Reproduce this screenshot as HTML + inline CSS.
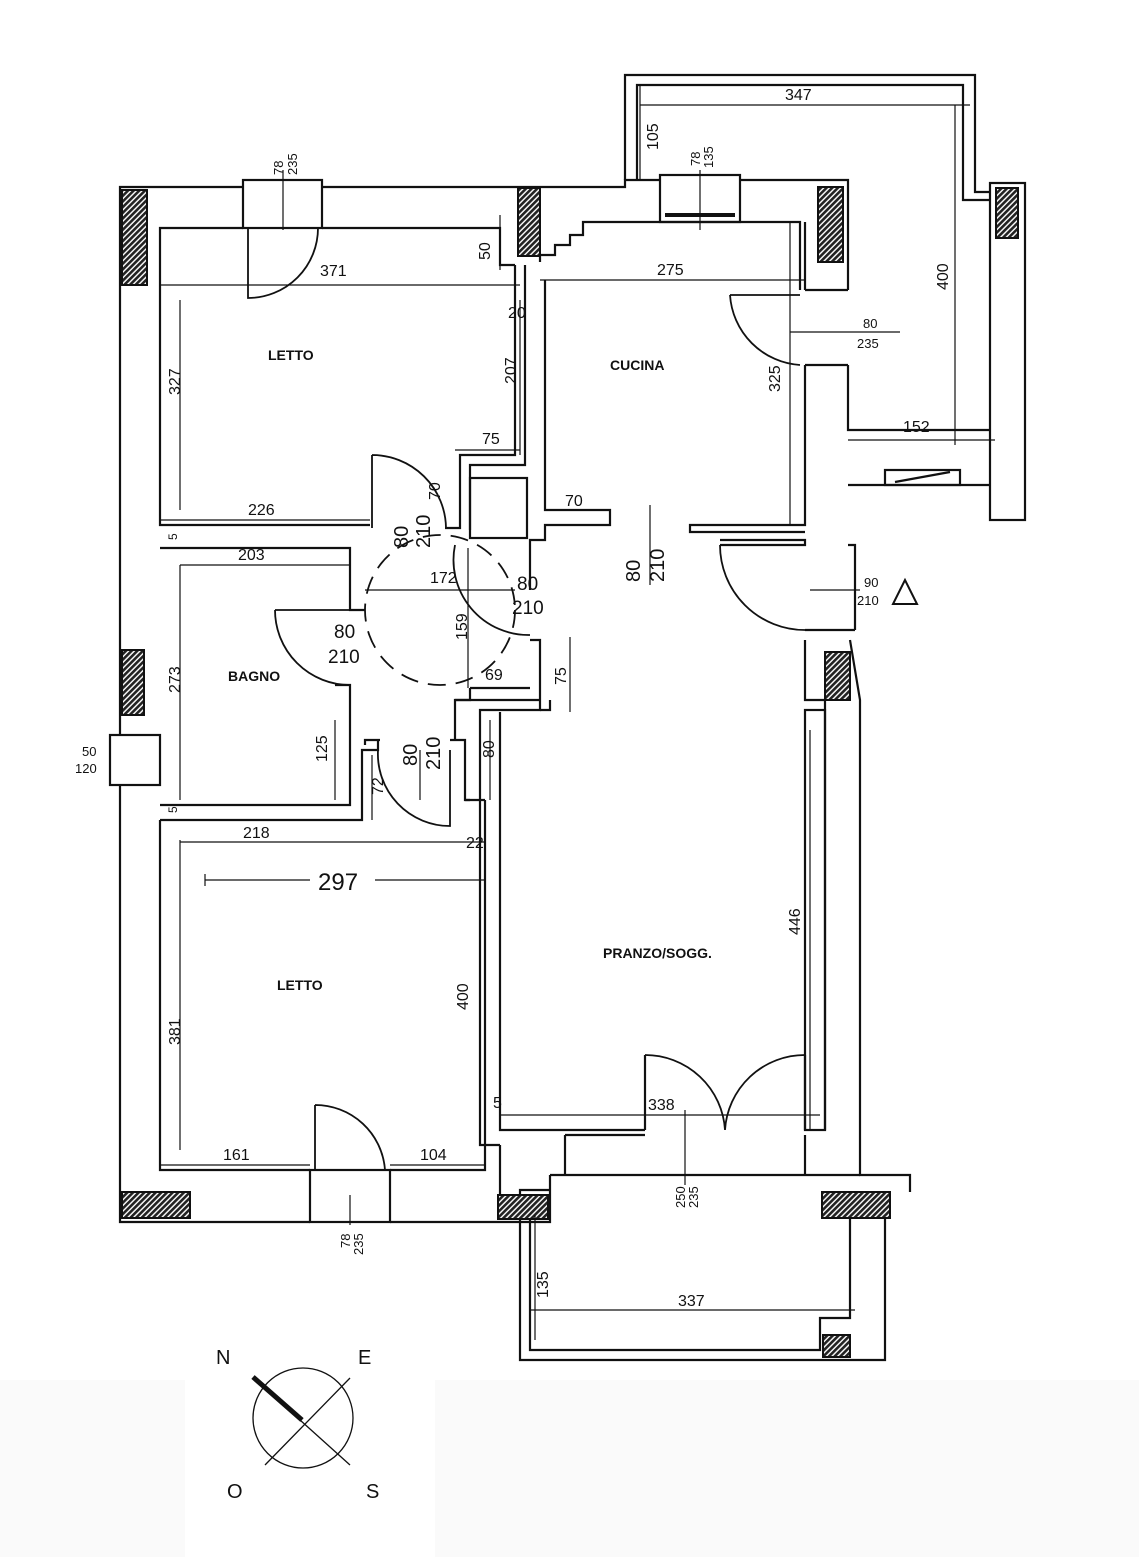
<!DOCTYPE html>
<html><head><meta charset="utf-8"><style>
html,body{margin:0;padding:0;background:#fff}
svg{display:block}
text{font-family:"Liberation Sans",sans-serif;fill:#111}
.r{font-family:"Liberation Sans Narrow","Liberation Sans",sans-serif;font-weight:bold;font-size:14px}
.d{font-size:16px}
</style></head><body>
<svg width="1139" height="1557" viewBox="0 0 1139 1557" xmlns="http://www.w3.org/2000/svg">
<defs>
<pattern id="h" width="4" height="4" patternUnits="userSpaceOnUse" patternTransform="rotate(45)">
<rect width="4" height="4" fill="#fff"/><rect width="2.6" height="4" fill="#222"/></pattern>
</defs>
<rect x="0" y="1380" width="1139" height="177" fill="#fafafa"/>
<rect x="185" y="1320" width="250" height="237" fill="#fff"/>
<g fill="none" stroke="#111" stroke-width="2.2">
<polyline points="243,187 120,187 120,735"/>
<polyline points="120,785 120,1222 310,1222"/>
<polyline points="390,1222 550,1222 550,1175"/>
<polyline points="322,187 625,187 625,180 660,180"/>
<polyline points="740,180 848,180 848,290"/>
<rect x="243" y="180" width="79" height="48"/>
<rect x="660" y="175" width="80" height="47"/>
<line x1="665" y1="215" x2="735" y2="215" stroke-width="4"/>
<polyline points="243,228 160,228 160,525 370,525"/>
<polyline points="322,228 500,228 500,265 515,265"/>
<polyline points="160,548 350,548 350,610 365,610"/>
<polyline points="515,265 515,455 460,455 460,528 445,528"/>
<polyline points="525,265 525,465 470,465 470,530"/>
<polyline points="540,262 540,255 555,255 555,245 570,245 570,235 583,235 583,222 800,222 800,290"/>
<polyline points="545,280 545,510 610,510 610,525 545,525 545,540 530,540 530,590"/>
<rect x="470" y="478" width="57" height="60"/>
<polyline points="805,222 805,290"/>
<polyline points="805,365 805,525 690,525 690,532 805,532"/>
<polyline points="848,365 848,430 990,430"/>
<polyline points="848,485 990,485"/>
<rect x="885" y="470" width="75" height="15"/>
<line x1="895" y1="482" x2="950" y2="472"/>
<line x1="805" y1="290" x2="848" y2="290"/>
<line x1="805" y1="365" x2="848" y2="365"/>
<polyline points="720,545 805,545 805,540 720,540"/>
<polyline points="848,545 855,545 855,630"/>
<polyline points="805,630 855,630"/>
<polyline points="805,640 805,700 825,700 825,1130"/>
<polyline points="850,640 860,700 860,1175 910,1175 910,1192"/>
<rect x="805" y="710" width="20" height="420"/>
<polyline points="530,640 540,640 540,710 480,710 480,1145 500,1145"/>
<polyline points="500,712 500,1130 645,1130"/>
<polyline points="470,688 470,700 455,700 455,740"/>
<polyline points="455,700 540,700"/>
<line x1="470" y1="688" x2="530" y2="688"/>
<polyline points="540,710 550,710 550,700"/>
<polyline points="335,685 350,685 350,805 160,805"/>
<polyline points="160,820 362,820 362,750 378,750 378,740"/>
<polyline points="365,745 365,740 380,740"/>
<polyline points="160,820 160,1170 310,1170"/>
<polyline points="390,1170 485,1170 485,800"/>
<polyline points="450,740 465,740 465,800 470,800"/>
<polyline points="465,800 485,800"/>
<polyline points="645,1130 645,1055"/>
<polyline points="805,1055 805,1130"/>
<polyline points="565,1135 645,1135"/>
<polyline points="500,1145 500,1195"/>
<polyline points="550,1175 860,1175"/>
<polyline points="565,1135 565,1175"/>
<polyline points="805,1135 805,1175"/>
<polyline points="550,1190 520,1190 520,1360 885,1360 885,1192"/>
<polyline points="550,1215 530,1215 530,1350 820,1350 820,1318 850,1318 850,1192"/>
<rect x="110" y="735" width="50" height="50"/>
<rect x="310" y="1170" width="80" height="52"/>
<polyline points="625,180 625,75 975,75 975,192 990,192"/>
<polyline points="637,180 637,85 963,85 963,200 990,200"/>
<rect x="990" y="183" width="35" height="337"/>
</g>
<g fill="url(#h)" stroke="#111" stroke-width="2">
<rect x="122" y="190" width="25" height="95"/>
<rect x="518" y="188" width="22" height="68"/>
<rect x="818" y="187" width="25" height="75"/>
<rect x="996" y="188" width="22" height="50"/>
<rect x="122" y="650" width="22" height="65"/>
<rect x="825" y="652" width="25" height="48"/>
<rect x="122" y="1192" width="68" height="26"/>
<rect x="498" y="1195" width="50" height="24"/>
<rect x="822" y="1192" width="68" height="26"/>
<rect x="823" y="1335" width="27" height="22"/>
</g>
<g fill="none" stroke="#111" stroke-width="1.8">
<path d="M248,228 L248,298 A70,70 0 0 0 318,228"/>
<path d="M372,455 L372,528 M372,455 A74,74 0 0 1 446,528"/>
<path d="M275,610 L350,610 M275,610 A75,75 0 0 0 350,685"/>
<path d="M455,545 A75,75 0 0 0 530,635"/>
<path d="M730,295 A75,75 0 0 0 800,365 M730,295 L800,295"/>
<path d="M720,545 A85,85 0 0 0 805,630"/>
<path d="M378,750 A72,72 0 0 0 450,826 L450,750"/>
<path d="M315,1105 L315,1170 M315,1105 A70,70 0 0 1 385,1170"/>
<path d="M645,1055 A80,80 0 0 1 725,1130 M805,1055 A80,80 0 0 0 725,1130"/>
<circle cx="440" cy="610" r="75" stroke-dasharray="18,10"/>
</g>
<g stroke="#111" stroke-width="1.2" fill="none">
<line x1="160" y1="285" x2="520" y2="285"/>
<line x1="540" y1="280" x2="805" y2="280"/>
<line x1="180" y1="300" x2="180" y2="510"/>
<line x1="520" y1="300" x2="520" y2="455"/>
<line x1="455" y1="450" x2="520" y2="450"/>
<line x1="160" y1="520" x2="370" y2="520"/>
<line x1="180" y1="565" x2="350" y2="565"/>
<line x1="365" y1="590" x2="515" y2="590"/>
<line x1="468" y1="548" x2="468" y2="688"/>
<line x1="180" y1="565" x2="180" y2="800"/>
<line x1="335" y1="720" x2="335" y2="800"/>
<line x1="180" y1="842" x2="485" y2="842"/>
<line x1="205" y1="880" x2="310" y2="880"/>
<line x1="375" y1="880" x2="485" y2="880"/>
<line x1="180" y1="840" x2="180" y2="1150"/>
<line x1="480" y1="890" x2="480" y2="1145"/>
<line x1="160" y1="1165" x2="310" y2="1165"/>
<line x1="390" y1="1165" x2="485" y2="1165"/>
<line x1="500" y1="1115" x2="820" y2="1115"/>
<line x1="570" y1="637" x2="570" y2="712"/>
<line x1="545" y1="510" x2="610" y2="510"/>
<line x1="790" y1="222" x2="790" y2="525"/>
<line x1="810" y1="730" x2="810" y2="1130"/>
<line x1="640" y1="105" x2="970" y2="105"/>
<line x1="640" y1="85" x2="640" y2="180"/>
<line x1="955" y1="105" x2="955" y2="445"/>
<line x1="848" y1="440" x2="995" y2="440"/>
<line x1="530" y1="1310" x2="855" y2="1310"/>
<line x1="535" y1="1215" x2="535" y2="1340"/>
<line x1="500" y1="215" x2="500" y2="270"/>
<line x1="420" y1="750" x2="420" y2="800"/>
<line x1="372" y1="755" x2="372" y2="820"/>
<line x1="490" y1="720" x2="490" y2="800"/>
<line x1="685" y1="1110" x2="685" y2="1185"/>
<line x1="650" y1="505" x2="650" y2="585"/>
<line x1="810" y1="590" x2="860" y2="590"/>
<line x1="790" y1="332" x2="900" y2="332"/>
<line x1="283" y1="170" x2="283" y2="230"/>
<line x1="700" y1="170" x2="700" y2="230"/>
<line x1="350" y1="1195" x2="350" y2="1225"/>
<line x1="205" y1="874" x2="205" y2="886"/>
</g>
<text class="r" x="268" y="360">LETTO</text>
<text class="r" x="610" y="370">CUCINA</text>
<text class="r" x="228" y="681">BAGNO</text>
<text class="r" x="277" y="990">LETTO</text>
<text class="r" x="603" y="958">PRANZO/SOGG.</text>
<g class="d">
<text x="320" y="276">371</text>
<text x="657" y="275">275</text>
<text x="508" y="318">20</text>
<text x="482" y="444">75</text>
<text x="248" y="515">226</text>
<text x="238" y="560">203</text>
<text x="565" y="506">70</text>
<text x="430" y="583">172</text>
<text x="485" y="680">69</text>
<text x="243" y="838">218</text>
<text x="466" y="848">22</text>
<text x="318" y="890" style="font-size:24px">297</text>
<text x="223" y="1160">161</text>
<text x="420" y="1160">104</text>
<text x="648" y="1110">338</text>
<text x="493" y="1108">5</text>
<text x="785" y="100">347</text>
<text x="903" y="432">152</text>
<text x="678" y="1306">337</text>
<text x="334" y="638" style="font-size:19px">80</text>
<text x="328" y="663" style="font-size:19px">210</text>
<text x="517" y="590" style="font-size:19px">80</text>
<text x="512" y="614" style="font-size:19px">210</text>
<text x="863" y="328" style="font-size:13px">80</text>
<text x="857" y="348" style="font-size:13px">235</text>
<text x="864" y="587" style="font-size:13px">90</text>
<text x="857" y="605" style="font-size:13px">210</text>
<text x="82" y="756" style="font-size:13px">50</text>
<text x="75" y="773" style="font-size:13px">120</text>
<text transform="translate(180,395) rotate(-90)">327</text>
<text transform="translate(516,384) rotate(-90)">207</text>
<text transform="translate(490,260) rotate(-90)">50</text>
<text transform="translate(467,640) rotate(-90)">159</text>
<text transform="translate(440,500) rotate(-90)">70</text>
<text transform="translate(180,693) rotate(-90)">273</text>
<text transform="translate(327,762) rotate(-90)">125</text>
<text transform="translate(383,795) rotate(-90)">72</text>
<text transform="translate(494,758) rotate(-90)">80</text>
<text transform="translate(566,685) rotate(-90)">75</text>
<text transform="translate(180,1045) rotate(-90)">381</text>
<text transform="translate(468,1010) rotate(-90)">400</text>
<text transform="translate(780,392) rotate(-90)">325</text>
<text transform="translate(800,935) rotate(-90)">446</text>
<text transform="translate(948,290) rotate(-90)">400</text>
<text transform="translate(658,150) rotate(-90)">105</text>
<text transform="translate(548,1298) rotate(-90)">135</text>
<text transform="translate(177,540) rotate(-90)" style="font-size:12px">5</text>
<text transform="translate(177,813) rotate(-90)" style="font-size:12px">5</text>
<text transform="translate(408,548) rotate(-90)" style="font-size:20px">80</text>
<text transform="translate(430,548) rotate(-90)" style="font-size:20px">210</text>
<text transform="translate(640,582) rotate(-90)" style="font-size:20px">80</text>
<text transform="translate(664,582) rotate(-90)" style="font-size:20px">210</text>
<text transform="translate(417,766) rotate(-90)" style="font-size:20px">80</text>
<text transform="translate(440,770) rotate(-90)" style="font-size:20px">210</text>
<text transform="translate(283,175) rotate(-90)" style="font-size:13px">78</text>
<text transform="translate(297,175) rotate(-90)" style="font-size:13px">235</text>
<text transform="translate(700,166) rotate(-90)" style="font-size:13px">78</text>
<text transform="translate(713,168) rotate(-90)" style="font-size:13px">135</text>
<text transform="translate(350,1248) rotate(-90)" style="font-size:13px">78</text>
<text transform="translate(363,1255) rotate(-90)" style="font-size:13px">235</text>
<text transform="translate(685,1208) rotate(-90)" style="font-size:13px">250</text>
<text transform="translate(698,1208) rotate(-90)" style="font-size:13px">235</text>
</g>
<polygon points="905,580 893,604 917,604" fill="none" stroke="#111" stroke-width="2"/>
<g stroke="#111" fill="none">
<circle cx="303" cy="1418" r="50" stroke-width="1.3"/>
<line x1="265" y1="1465" x2="350" y2="1378" stroke-width="1.3"/>
<line x1="300" y1="1420" x2="350" y2="1465" stroke-width="1.3"/>
<line x1="253" y1="1377" x2="302" y2="1420" stroke-width="5"/>
</g>
<text x="216" y="1364" style="font-size:20px">N</text>
<text x="358" y="1364" style="font-size:20px">E</text>
<text x="227" y="1498" style="font-size:20px">O</text>
<text x="366" y="1498" style="font-size:20px">S</text>
</svg>
</body></html>
